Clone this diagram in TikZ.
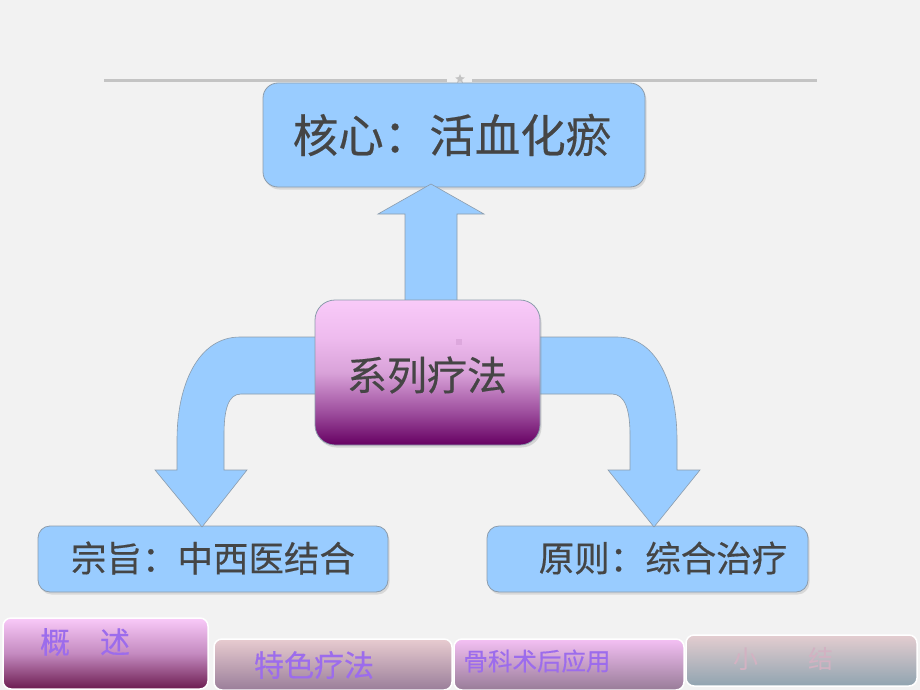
\documentclass[tikz,border=0pt]{standalone}
\usepackage{fontspec}
\newfontfamily\cjk[FakeBold=0.4]{Noto Sans CJK SC}
\newfontfamily\cjklight{Noto Sans CJK SC}
\usetikzlibrary{shapes.geometric,shadows}
\definecolor{bg}{HTML}{F2F2F2}
\definecolor{boxblue}{HTML}{99CCFF}
\definecolor{boxline}{HTML}{8C9CAC}
\definecolor{txt}{HTML}{454545}
\definecolor{cbot}{HTML}{660062}
\definecolor{cmidA}{HTML}{9C4C9C}
\definecolor{cmidB}{HTML}{D9A2D9}
\definecolor{cmidC}{HTML}{EEBBEE}
\definecolor{ctop}{HTML}{F9CAF9}
\definecolor{tabtxt}{HTML}{9C6CEC}
\definecolor{tabfaint}{HTML}{D2B2C2}
\definecolor{hline}{HTML}{C4C4C4}
\definecolor{dotpink}{HTML}{DDA8DD}
\definecolor{tabAbot}{HTML}{6C1C50}
\definecolor{tabAmid}{HTML}{C48AC0}
\definecolor{tabBtop}{HTML}{E8CCD0}
\definecolor{tabBbot}{HTML}{9A7E9A}
\definecolor{tabCtop}{HTML}{F4C0F4}
\definecolor{tabCbot}{HTML}{987C98}
\definecolor{tabDtop}{HTML}{E4CDD0}
\definecolor{tabDbot}{HTML}{90A4B0}
\pgfdeclareverticalshading{centershade}{100bp}{color(0bp)=(cbot); color(25bp)=(cbot); color(36bp)=(cmidA); color(50bp)=(cmidB); color(62bp)=(cmidC); color(75bp)=(ctop); color(100bp)=(ctop)}
\tikzset{
  bluebox/.style={draw=boxline, line width=0.8pt, fill=boxblue, inner sep=0pt,
    drop shadow={opacity=0.22, shadow xshift=1.5pt, shadow yshift=-2.5pt}},
  blockarrow/.style={draw=boxline, line width=0.6pt, fill=boxblue},
  tabbox/.style={draw=white, line width=1.5pt, rounded corners=8pt, inner sep=0pt},
  bigtxt/.style={font=\cjk\fontsize{45.5}{50}\selectfont, text=txt, inner sep=0pt},
  midtxt/.style={font=\cjk\fontsize{40}{46}\selectfont, text=txt, inner sep=0pt},
  lowtxt/.style={font=\cjk\fontsize{35.5}{40}\selectfont, text=txt, inner sep=0pt},
  tabtext/.style={text=tabtxt, inner sep=0pt},
}
\begin{document}
\begin{tikzpicture}[x=1pt,y=-1pt]
\fill[bg] (0,0) rectangle (920,690);
\useasboundingbox (0,0) rectangle (920,690);

% header rule with star
\draw[hline, line width=2.5pt] (104,80.5) -- (447,80.5);
\draw[hline, line width=2.5pt] (472,80.5) -- (817,80.5);
\node[star, star points=5, star point ratio=2.2, fill=hline, minimum size=10pt, inner sep=0pt] (hstar) at (460,79) {};

% top box
\node[bluebox, rounded corners=15pt, minimum width=382pt, minimum height=104pt] (core) at (454,135) {};
\node[bigtxt] (coretext) at (452,135) {核心：活血化瘀};

% bottom boxes
\node[bluebox, rounded corners=12pt, minimum width=350pt, minimum height=66pt] (aim) at (213,559) {};
\node[lowtxt] (aimtext) at (213,558) {宗旨：中西医结合};
\node[bluebox, rounded corners=12pt, minimum width=321pt, minimum height=66pt] (rule) at (647.5,559) {};
\node[lowtxt] (ruletext) at (663,558) {原则：综合治疗};

% block arrows
\draw[blockarrow] (405,305) -- (405,214) -- (378,214) -- (431,184) -- (484,214) -- (457,214) -- (457,305) -- cycle;
\draw[blockarrow] (320,337) -- (240,337) .. controls (198,337) and (177,385) .. (177,440) -- (177,470) -- (155,470) -- (202,527) -- (247,470) -- (224,470) -- (224,435) .. controls (224,410) and (228,394) .. (241,394) -- (320,394) -- cycle;
\draw[blockarrow] (535,337) -- (617,337) .. controls (657,337) and (677,385) .. (677,440) -- (677,470) -- (700,470) -- (654,527) -- (608,470) -- (630,470) -- (630,435) .. controls (630,410) and (625,394) .. (612,394) -- (535,394) -- cycle;

% center box
\node[draw=boxline, line width=0.8pt, rounded corners=20pt, shading=centershade, minimum width=225pt, minimum height=145pt, inner sep=0pt,
  drop shadow={opacity=0.25, shadow xshift=1.5pt, shadow yshift=-2.5pt}] (series) at (427.5,372.5) {};
\fill[dotpink] (456,339) rectangle (462,345);
\node[midtxt] (seriestext) at (427,375) {系列疗法};

% bottom tabs
\node[tabbox, top color=ctop, bottom color=tabAbot, middle color=tabAmid, minimum width=205pt, minimum height=71pt] (tabA) at (105.5,653.5) {};
\node[tabtext, font=\cjk\fontsize{30}{33}\selectfont] (tabAtext) at (85,642) {概　述};
\node[tabbox, top color=tabBtop, bottom color=tabBbot, minimum width=238pt, minimum height=51pt] (tabB) at (333,664.5) {};
\node[tabtext, font=\cjk\fontsize{30}{33}\selectfont] (tabBtext) at (314,665) {特色疗法};
\node[tabbox, top color=tabCtop, bottom color=tabCbot, minimum width=230pt, minimum height=51pt] (tabC) at (569,664.5) {};
\node[tabtext, font=\cjk\fontsize{24.5}{27}\selectfont] (tabCtext) at (537,661) {骨科术后应用};
\node[tabbox, top color=tabDtop, bottom color=tabDbot, minimum width=231pt, minimum height=51pt] (tabD) at (801.5,660.5) {};
\node[text=tabfaint, inner sep=0pt, font=\cjklight\fontsize{25}{28}\selectfont] (tabDtext) at (783,659) {小　　结};
\end{tikzpicture}
\end{document}
